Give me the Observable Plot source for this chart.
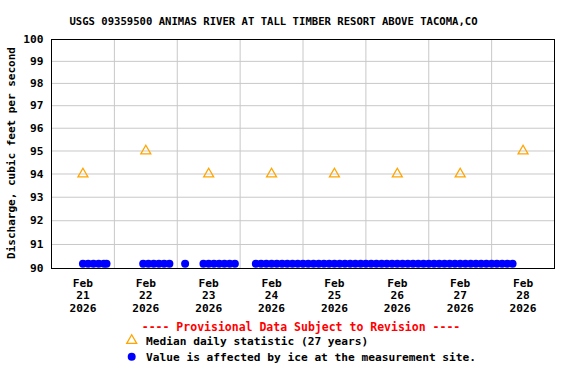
<!DOCTYPE html>
<html><head><meta charset="utf-8">
<script src="https://cdn.jsdelivr.net/npm/d3@7"></script>
<script src="https://cdn.jsdelivr.net/npm/@observablehq/plot@0.6"></script>
<style>body{margin:0;background:#fff}</style>
</head><body><div id="chart"></div>
<script>
const title = "USGS 09359500 ANIMAS RIVER AT TALL TIMBER RESORT ABOVE TACOMA,CO";
const yLabel = "Discharge, cubic feet per second";
const provisional = "---- Provisional Data Subject to Revision ----";
const legendMedian = "Median daily statistic (27 years)";
const legendIce = "Value is affected by ice at the measurement site.";

const days = ["2026-02-21","2026-02-22","2026-02-23","2026-02-24","2026-02-25","2026-02-26","2026-02-27","2026-02-28"];
const medianValues = [94, 95, 94, 94, 94, 94, 94, 95];
const yTicks = [90, 91, 92, 93, 94, 95, 96, 97, 98, 99, 100];

// ice-affected readings: hours after 2026-02-21 00:00, all at ~90.2 cfs
const iceStart = "2026-02-21T00:00:00Z";
const iceHours = [
  12, 14, 16, 18, 20, 21,
  35, 37, 39, 41, 43, 45,
  51,
  58, 60, 62, 64, 66, 68, 70,
  78, 80, 82, 84, 86, 88, 90, 92, 94, 96, 98, 100, 102, 104, 106, 108, 110,
  112, 114, 116, 118, 120, 122, 124, 126, 128, 130, 132, 134, 136, 138, 140,
  142, 144, 146, 148, 150, 152, 154, 156, 158, 160, 162, 164, 166, 168, 170,
  172, 174, 176
];
const iceValue = 90.2;

const W = 576, H = 384;
const dayDate = s => new Date(s + "T00:00:00Z");
const noon = s => new Date(s + "T12:00:00Z");
const medians = days.map((d, i) => ({date: noon(d), value: medianValues[i]}));
const ice = iceHours.map(h => ({date: new Date(Date.parse(iceStart) + h * 3600e3), value: iceValue}));
const gridDates = days.slice(1).map(dayDate);
const fmt = d3.utcFormat("%b\n%d\n%Y");
const font = "'DejaVu Sans Mono', monospace";

const chart = Plot.plot({
  width: W, height: H,
  marginTop: 39, marginLeft: 51, marginRight: 22, marginBottom: H - 268,
  style: {fontFamily: font, fontWeight: "bold", fontSize: "11.2px", background: "white", color: "black"},
  x: {type: "utc", domain: [dayDate("2026-02-21"), dayDate("2026-03-01")], axis: null},
  y: {type: "log", domain: [90, 100], axis: null},
  marks: [
    Plot.ruleY(yTicks.slice(1, -1), {y: d => d, stroke: "#c8c8c8", strokeOpacity: 1}),
    Plot.ruleX(gridDates, {x: d => d, stroke: "#c8c8c8", strokeOpacity: 1}),
    Plot.dot(ice, {x: "date", y: "value", r: 4, fill: "blue", stroke: "none"}),
    Plot.dot(medians, {x: "date", y: "value", symbol: "triangle", r: 3.7, stroke: "orange", strokeWidth: 1.3, fill: "none"}),
    Plot.frame({stroke: "black"}),
    Plot.text(yTicks, {y: d => d, text: d => String(d), frameAnchor: "left", textAnchor: "end", dx: -8, fill: "black"}),
    Plot.axisX(days.map(noon), {tickSize: 0, tickPadding: 9, tickFormat: fmt, lineHeight: 1.14, label: null})
  ]
});
document.getElementById("chart").appendChild(chart);

const svg = d3.select(chart);
const addText = (x, y, size, fill, anchor, str) =>
  svg.append("text").attr("x", x).attr("y", y).attr("text-anchor", anchor)
    .attr("font-size", size).attr("font-weight", "bold").attr("font-family", font).attr("fill", fill).text(str);
addText(273.5, 25, "10.6px", "black", "middle", title);
svg.append("text").attr("transform", "translate(15,153) rotate(-90)").attr("text-anchor", "middle")
  .attr("font-size", "11px").attr("font-weight", "bold").attr("font-family", font).attr("fill", "black").text(yLabel);
addText(301, 331, "11.5px", "red", "middle", provisional);
svg.append("path").attr("transform", "translate(131.7,340.5)")
  .attr("d", d3.symbol(d3.symbolTriangle, Math.PI * 3.7 * 3.7)()).attr("fill", "none").attr("stroke", "orange").attr("stroke-width", 1.3);
addText(146, 345, "11.2px", "black", "start", legendMedian);
svg.append("circle").attr("cx", 131.7).attr("cy", 356.7).attr("r", 4).attr("fill", "blue");
addText(146, 361, "11.2px", "black", "start", legendIce);
</script>
</body></html>
